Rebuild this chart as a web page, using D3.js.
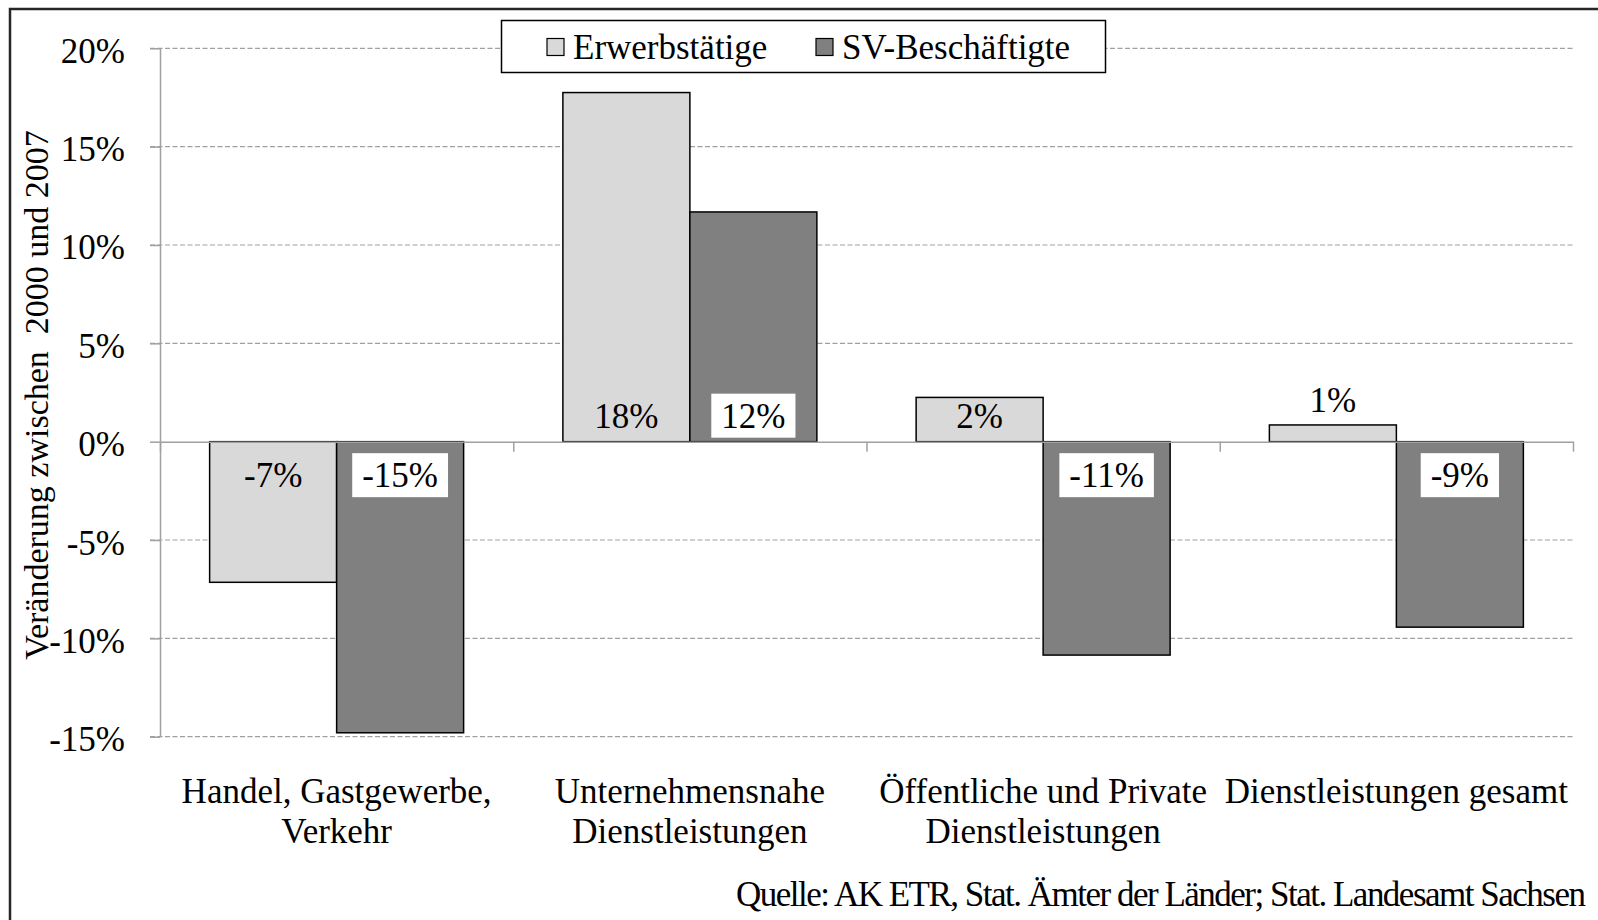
<!DOCTYPE html>
<html>
<head>
<meta charset="utf-8">
<script src="https://d3js.org/d3.v7.min.js"></script>
<style>
  html, body { margin: 0; padding: 0; background: #fff; }
  svg { display: block; font-family: "Liberation Serif", "Times New Roman", serif; }
</style>
</head>
<body>
<svg id="chart" width="1598" height="920"></svg>
<script>
// Category labels (one array entry per line)
var categories = [
  ['Handel, Gastgewerbe,', 'Verkehr'],
  ['Unternehmensnahe', 'Dienstleistungen'],
  ['Öffentliche und Private', 'Dienstleistungen'],
  ['Dienstleistungen gesamt']
];
var seriesNames = ['Erwerbstätige', 'SV-Beschäftigte'];
var seriesColors = ['#d9d9d9', '#808080'];

// change 2000 -> 2007
var erwerbstaetige = [-0.0715, 0.1775, 0.0225, 0.0085];
var svBeschaeftigte = [-0.148, 0.1168, -0.1085, -0.0943];

var yTicks = [-0.15, -0.10, -0.05, 0, 0.05, 0.10, 0.15, 0.20];
var yTitle = 'Veränderung zwischen  2000 und 2007';
var sourceText = 'Quelle: AK ETR, Stat. Ämter der Länder; Stat. Landesamt Sachsen';

var FONT = 35;
var plot = {left: 160, right: 1573, top: 48.3, bottom: 736.7};

var svg = d3.select('#chart');

function pct(d) {
  return Math.round(d * 100) + '%';
}

var keys = categories.map(function(c) { return c.join(' '); });

var x0 = d3.scaleBand()
  .domain(keys)
  .range([plot.left, plot.right])
  .paddingInner(0.281)
  .paddingOuter(0.1405);

var x1 = d3.scaleBand()
  .domain(seriesNames)
  .range([0, x0.bandwidth()]);

var y = d3.scaleLinear()
  .domain([-0.15, 0.20])
  .range([plot.bottom, plot.top]);

// outer frame (runs off the right/bottom edge like the original)
svg.append('rect')
  .attr('x', 10).attr('y', 9)
  .attr('width', 1620).attr('height', 940)
  .attr('fill', 'none')
  .attr('stroke', '#262626')
  .attr('stroke-width', 2.5);

// dashed gridlines
svg.append('g')
  .selectAll('line')
  .data(yTicks.filter(function(d) { return d !== 0; }))
  .enter().append('line')
    .attr('x1', plot.left - 10).attr('x2', plot.right)
    .attr('y1', function(d) { return y(d); })
    .attr('y2', function(d) { return y(d); })
    .attr('stroke', '#a0a0a0')
    .attr('stroke-width', 1.2)
    .attr('stroke-dasharray', '5,2.5');

// bars
var rows = keys.map(function(k, i) {
  return {key: k, values: [erwerbstaetige[i], svBeschaeftigte[i]]};
});

var groups = svg.append('g')
  .selectAll('g')
  .data(rows)
  .enter().append('g')
    .attr('transform', function(d) { return 'translate(' + x0(d.key) + ',0)'; });

groups.selectAll('rect')
  .data(function(d) {
    return d.values.map(function(v, j) { return {series: seriesNames[j], j: j, value: v}; });
  })
  .enter().append('rect')
    .attr('x', function(d) { return x1(d.series); })
    .attr('width', x1.bandwidth())
    .attr('y', function(d) { return y(Math.max(0, d.value)); })
    .attr('height', function(d) { return Math.abs(y(d.value) - y(0)); })
    .attr('fill', function(d) { return seriesColors[d.j]; })
    .attr('stroke', '#000')
    .attr('stroke-width', 1.5);

// y axis
var yAxis = d3.axisLeft(y)
  .tickValues(yTicks)
  .tickSize(10)
  .tickSizeOuter(0)
  .tickPadding(25)
  .tickFormat(pct);

var gy = svg.append('g')
  .attr('transform', 'translate(' + plot.left + ',0)')
  .call(yAxis)
  .attr('font-family', null)
  .attr('font-size', FONT);
gy.select('.domain').attr('stroke', '#a0a0a0').attr('stroke-width', 1.5);
gy.selectAll('.tick line').attr('stroke', '#a0a0a0').attr('stroke-width', 1.5);
gy.selectAll('.tick text')
  .attr('fill', '#000')
  .attr('dy', '0.4em');

// category axis along zero line, ticks between groups
var xEdge = d3.scaleLinear().domain([0, categories.length]).range([plot.left, plot.right]);
var gx = svg.append('g')
  .attr('transform', 'translate(0,' + y(0) + ')')
  .call(d3.axisBottom(xEdge).ticks(categories.length).tickSize(10).tickSizeOuter(0).tickFormat(''));
gx.select('.domain').attr('stroke', '#a0a0a0').attr('stroke-width', 1.5);
gx.selectAll('.tick line').attr('stroke', '#a0a0a0').attr('stroke-width', 1.5);

// data labels
var labels = groups.selectAll('g.label')
  .data(function(d) {
    return d.values.map(function(v, j) { return {series: seriesNames[j], j: j, value: v}; });
  })
  .enter().append('g')
    .attr('class', 'label')
    .attr('transform', function(d) {
      var cx = x1(d.series) + x1.bandwidth() / 2;
      var cy;
      if (d.value < 0)
        cy = y(0) + 33.5;
      else if (y(0) - y(d.value) >= 40)
        cy = y(0) - 26;
      else
        cy = y(d.value) - 25;
      return 'translate(' + cx + ',' + cy + ')';
    });

labels.append('text')
  .attr('text-anchor', 'middle')
  .attr('dy', '0.35em')
  .attr('font-size', FONT)
  .attr('fill', '#000')
  .text(function(d) { return pct(d.value); });

// white boxes behind the dark series labels
labels.filter(function(d) { return d.j === 1; })
  .insert('rect', 'text')
    .each(function() {
      var w = this.parentNode.querySelector('text').getComputedTextLength() + 20;
      d3.select(this)
        .attr('x', -w / 2).attr('width', w)
        .attr('y', -22).attr('height', 44)
        .attr('fill', '#fff');
    });

// category labels
svg.append('g')
  .selectAll('text')
  .data(categories)
  .enter().append('text')
    .attr('text-anchor', 'middle')
    .attr('font-size', FONT)
    .attr('fill', '#000')
    .each(function(lines, i) {
      var cx = x0(keys[i]) + x0.bandwidth() / 2;
      d3.select(this).selectAll('tspan')
        .data(lines)
        .enter().append('tspan')
          .attr('x', cx)
          .attr('y', function(l, k) { return 791 + k * 40; })
          .attr('dy', '0.35em')
          .text(function(l) { return l; });
    });

// y axis title
svg.append('text')
  .attr('transform', 'translate(36,395) rotate(-90)')
  .attr('text-anchor', 'middle')
  .attr('dy', '0.35em')
  .attr('font-size', 34)
  .attr('fill', '#000')
  .style('white-space', 'pre')
  .text(yTitle);

// legend
var legend = svg.append('g');
legend.append('rect')
  .attr('x', 501.5).attr('y', 20.5)
  .attr('width', 604).attr('height', 52)
  .attr('fill', '#fff')
  .attr('stroke', '#000')
  .attr('stroke-width', 1.5);

var legendX = [547, 816];
var items = legend.selectAll('g')
  .data(seriesNames)
  .enter().append('g')
    .attr('transform', function(d, i) { return 'translate(' + legendX[i] + ',47)'; });
items.append('rect')
  .attr('x', 0).attr('y', -8.5)
  .attr('width', 17).attr('height', 17)
  .attr('fill', function(d, i) { return seriesColors[i]; })
  .attr('stroke', '#000')
  .attr('stroke-width', 1.2);
items.append('text')
  .attr('x', 26)
  .attr('dy', '0.35em')
  .attr('font-size', FONT)
  .attr('fill', '#000')
  .text(function(d) { return d; });

// source note
svg.append('text')
  .attr('x', 1586).attr('y', 894)
  .attr('dy', '0.35em')
  .attr('text-anchor', 'end')
  .attr('font-size', FONT)
  .attr('fill', '#000')
  .attr('textLength', 850)
  .attr('lengthAdjust', 'spacing')
  .text(sourceText);
</script>
</body>
</html>
